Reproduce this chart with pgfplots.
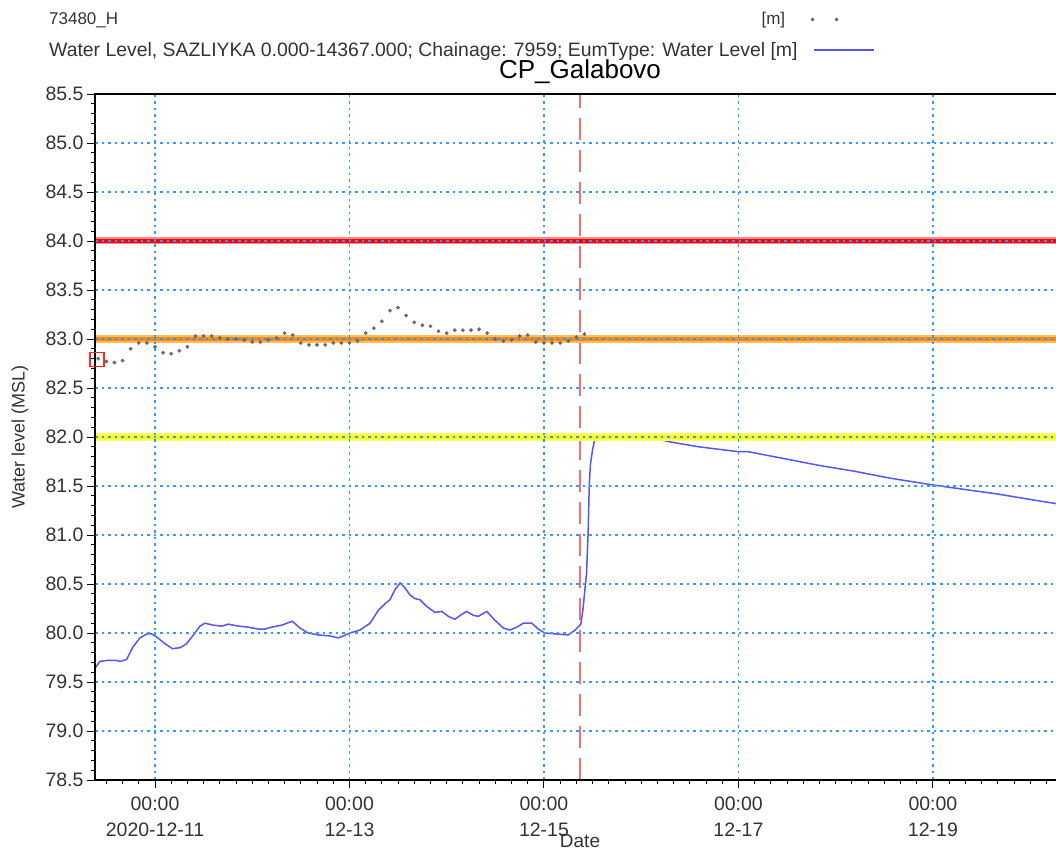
\documentclass[border=0pt]{standalone}
\usepackage{pgfplots}
\pgfplotsset{compat=1.18}
\usepackage{fontspec}
\setmainfont{Liberation Sans}
\definecolor{gridblue}{RGB}{51,153,255}
\definecolor{simblue}{RGB}{85,85,250}
\definecolor{obsgray}{RGB}{105,105,105}
\definecolor{thrred}{RGB}{255,0,0}
\definecolor{throrange}{RGB}{255,140,0}
\definecolor{thryellow}{RGB}{255,255,0}
\definecolor{vred}{RGB}{255,110,110}
\begin{document}
\begin{tikzpicture}[x=1pt,y=1pt]
\useasboundingbox (0,0) rectangle (1056,850);
\begin{axis}[
  at={(95pt,70pt)}, anchor=south west,
  width=970pt, height=686pt, scale only axis,
  xmin=-14.8, xmax=224.6, ymin=78.5, ymax=85.5,
  clip=false, axis on top,
  tick pos=left, tick align=outside,
  major tick length=8pt, minor tick length=4.5pt,
  tick style={black, line width=0.9pt},
  axis line style={black, line width=1.3pt},
  xtick={0,48,96,144,192},
  xticklabels={{00:00\\2020-12-11},{00:00\\12-13},{00:00\\12-15},{00:00\\12-17},{00:00\\12-19}},
  minor xtick={-12,-8,-4,4,8,12,16,20,24,28,32,36,40,44,52,56,60,64,68,72,76,80,84,88,92,100,104,108,112,116,120,124,128,132,136,140,148,152,156,160,164,168,172,176,180,184,188,196,200,204,208,212,216,220,224},
  ytick={78.5,79,79.5,80,80.5,81,81.5,82,82.5,83,83.5,84,84.5,85,85.5},
  minor y tick num=4,
  yticklabel style={/pgf/number format/.cd, fixed, fixed zerofill, precision=1, assume math mode=true},
  ticklabel style={font=\fontsize{19.5}{26}\selectfont, text=black!80},
  xticklabel style={align=center, yshift=-5pt},
  grid=major,
  major grid style={gridblue, line width=1.4pt, dash pattern=on 2.5pt off 4pt},
  title={CP\_Galabovo},
  title style={at={(axis description cs:0.5,1)}, anchor=base, yshift=9pt, font=\fontsize{26}{30}\selectfont},
  xlabel={Date},
  xlabel style={at={(axis description cs:0.5,-0.0885)}, anchor=center, inner sep=0pt, font=\fontsize{19}{22}\selectfont, text=black!80},
  ylabel={Water level (MSL)},
  ylabel style={at={(axis description cs:-0.0773,0.5)}, anchor=center, font=\fontsize{18}{22}\selectfont, text=black!80},
  legend plot pos=right, legend cell align=left,
  legend style={at={(axis description cs:-0.0495,1.122)}, anchor=north west, draw=none, fill=none,
    inner sep=0pt, row sep=12pt, font=\fontsize{18}{21}\selectfont, text=black!80,
    column sep=8pt},
]
% forecast time marker
\addplot[forget plot, vred, line width=2pt, dash pattern=on 22pt off 10pt] coordinates {(105,78.5) (105,85.5)};
% observed
\addplot[only marks, mark=*, mark size=1.7pt, obsgray,
  legend image code/.code={\fill[obsgray] (1.6pt,0) circle (1.6pt); \fill[obsgray] (25.6pt,0) circle (1.6pt); \path (60pt,0);}]
  table {
x y
-14 82.80
-12 82.77
-10 82.76
-8 82.78
-6 82.90
-4 82.96
-2 82.96
0 82.92
2 82.86
4 82.85
6 82.88
8 82.92
10 83.03
12 83.03
14 83.03
16 83.01
18 83.00
20 83.00
22 82.99
24 82.97
26 82.97
28 82.99
30 83.01
32 83.06
34 83.04
36 82.96
38 82.94
40 82.94
42 82.94
44 82.96
46 82.96
48 82.96
50 82.98
52 83.06
54 83.11
56 83.18
58 83.29
60 83.32
62 83.24
64 83.17
66 83.14
68 83.13
70 83.08
72 83.06
74 83.09
76 83.09
78 83.09
80 83.10
82 83.06
84 83.00
86 82.98
88 82.99
90 83.03
92 83.04
94 82.97
96 82.96
98 82.96
100 82.96
102 82.98
104 83.02
106 83.05
};
\addlegendentry{\makebox[751pt][l]{\fontsize{17}{21}\selectfont 73480\_H\hfill[m]\hspace*{15pt}}}
% simulated
\addplot[simblue, line width=1.5pt,
  legend image code/.code={\draw[simblue, line width=1.5pt] (3pt,0) -- (63pt,0); \path (0pt,0);}]
  table {
x y
-14.8 79.64
-13.6 79.71
-11.9 79.72
-9.5 79.72
-8.6 79.71
-7.0 79.73
-5.4 79.86
-3.7 79.95
-2.0 79.99
-0.8 79.99
0.4 79.96
2.5 79.89
4.3 79.84
6.2 79.85
7.8 79.89
9.5 79.98
11.1 80.07
12.3 80.10
14.4 80.08
16.5 80.07
18.1 80.09
20.6 80.07
23.0 80.06
25.5 80.04
27.1 80.04
28.8 80.06
31.3 80.08
33.9 80.12
35.8 80.05
37.8 80.00
40.3 79.98
43.2 79.97
45.2 79.95
46.5 79.97
48.1 80.00
50.6 80.03
53.1 80.10
55.1 80.23
56.8 80.30
58.0 80.34
59.2 80.44
60.5 80.51
61.7 80.46
62.9 80.39
64.2 80.35
65.4 80.34
67.1 80.27
69.1 80.21
70.8 80.22
72.4 80.17
74.0 80.14
75.7 80.19
76.9 80.22
78.6 80.18
79.8 80.17
81.9 80.22
83.9 80.13
86.0 80.05
87.6 80.03
89.3 80.06
90.9 80.10
93.0 80.10
94.6 80.04
96.2 80.00
99.1 79.99
102.0 79.98
103.7 80.03
105.1 80.09
105.6 80.23
106.1 80.44
106.5 80.60
106.9 81.02
107.2 81.53
107.5 81.73
108.0 81.87
108.6 81.99
115.0 82.00
122.8 81.99
127.1 81.95
134.2 81.90
144.0 81.85
146.4 81.85
155.2 81.78
163.9 81.71
172.7 81.65
181.4 81.58
192.1 81.51
198.9 81.47
207.7 81.42
216.4 81.36
222.4 81.32
224.6 81.30
};
\addlegendentry{\makebox[751pt][l]{\fontsize{19.4}{21}\selectfont Water Level, SAZLIYKA 0.000-14367.000; Chainage: 7959; EumType: Water Level [m]}}
% highlighted first observation
\addplot[forget plot, only marks, mark=square, mark size=7pt, thrred!85, mark options={line width=1.2pt}] coordinates {(-14.3,82.79)};
% threshold lines
\addplot[forget plot, thrred!45, line width=7pt] coordinates {(-14.8,84) (224.6,84)};
\addplot[forget plot, thrred, line width=3.5pt] coordinates {(-14.8,84) (224.6,84)};
\addplot[forget plot, throrange!60, line width=8pt] coordinates {(-14.8,83) (224.6,83)};
\addplot[forget plot, throrange, line width=4.5pt] coordinates {(-14.8,83) (224.6,83)};
\addplot[forget plot, thryellow!60, line width=8pt] coordinates {(-14.8,82) (224.6,82)};
\addplot[forget plot, thryellow, line width=4.5pt] coordinates {(-14.8,82) (224.6,82)};
\end{axis}
\end{tikzpicture}
\end{document}
